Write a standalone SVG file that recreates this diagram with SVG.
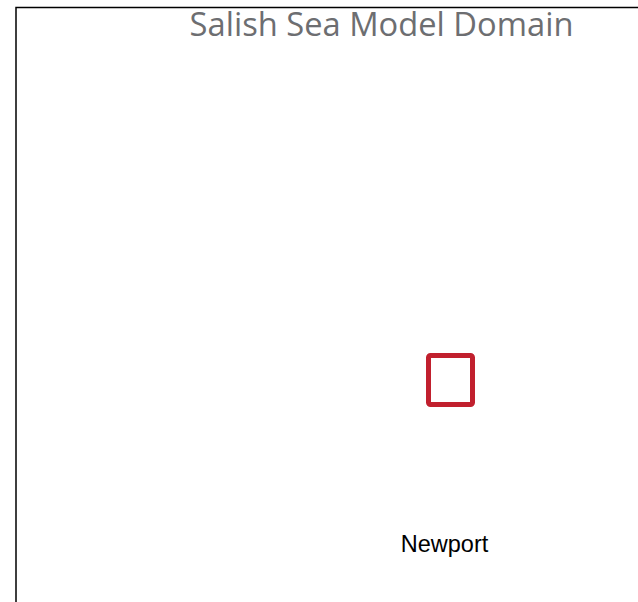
<svg xmlns="http://www.w3.org/2000/svg" width="638" height="602" viewBox="0 0 638 602">
  <style>
    .frame { fill: none; stroke: #000000; stroke-width: 1.5; }
    .title { font-family: "Open Sans", "Liberation Sans", sans-serif; font-size: 32.7px; fill: #6d6e71; }
    .label { font-family: "Liberation Sans", Arial, sans-serif; font-size: 23.5px; fill: #000000; }
    .site { fill: none; stroke: #c1202e; stroke-width: 5; }
  </style>
  <rect width="638" height="602" fill="#ffffff"/>
  <!-- map frame: top and left edges -->
  <path class="frame" d="M16,602 V7.5 H638"/>
  <text class="title" x="381.5" y="36" text-anchor="middle">Salish Sea Model Domain</text>
  <g id="newport-site">
    <rect class="site" x="428.5" y="355.5" width="44" height="49" rx="2"/>
  </g>
  <g id="newport-label">
    <text class="label" x="444.5" y="552" text-anchor="middle">Newport</text>
  </g>
</svg>
